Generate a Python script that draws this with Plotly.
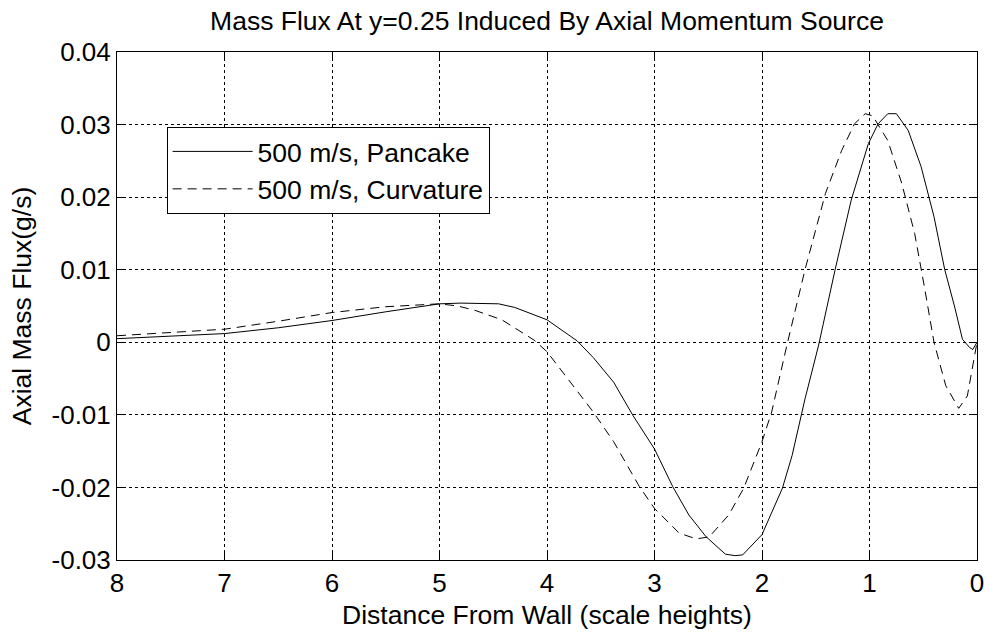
import plotly.graph_objects as go

# ---- data ----
pancake_x = [8.0, 7.5, 7.0, 6.5, 6.0, 5.5, 5.0, 4.8, 4.6, 4.45, 4.3, 4.0, 3.72, 3.57, 3.38,
             3.2, 3.0, 2.83, 2.68, 2.52, 2.34, 2.25, 2.18, 2.0, 1.81, 1.72, 1.6, 1.475, 1.32,
             1.17, 1.01, 0.92, 0.83, 0.75, 0.64, 0.52, 0.40, 0.30, 0.21, 0.135, 0.07, 0.04, 0.0]
pancake_y = [0.0005, 0.0008, 0.0012, 0.0020, 0.0030, 0.0042, 0.0053, 0.0054, 0.0054, 0.0053,
             0.0048, 0.0031, 0.0002, -0.0021, -0.0055, -0.0101, -0.0147, -0.0199, -0.0238,
             -0.0268, -0.0292, -0.0294, -0.0293, -0.0265, -0.0201, -0.0156, -0.0078, -0.0005,
             0.0100, 0.0196, 0.0274, 0.0301, 0.0315, 0.0315, 0.0292, 0.0242, 0.0173, 0.0100,
             0.0050, 0.0004, -0.0007, -0.0010, 0.0]

curv_x = [8.0, 7.5, 7.0, 6.5, 6.0, 5.5, 5.0, 4.83, 4.67, 4.42, 4.12, 4.0, 3.82, 3.57, 3.38,
          3.14, 3.0, 2.77, 2.61, 2.49, 2.31, 2.17, 2.0, 1.91, 1.77, 1.6, 1.41, 1.26, 1.14,
          1.04, 0.97, 0.83, 0.70, 0.58, 0.49, 0.40, 0.29, 0.17, 0.09, 0.03, 0.0]
curv_y = [0.0009, 0.0013, 0.0018, 0.0029, 0.0041, 0.0049, 0.0053, 0.0050, 0.0044, 0.0031,
          0.0003, -0.0013, -0.0048, -0.0096, -0.0137, -0.0199, -0.0229, -0.0263, -0.0271,
          -0.0268, -0.0238, -0.0201, -0.0137, -0.0096, -0.0005, 0.0100, 0.0205, 0.0264,
          0.0301, 0.0315, 0.0312, 0.0278, 0.0219, 0.0150, 0.0077, 0.0000, -0.0060, -0.0091,
          -0.0074, -0.0023, 0.0]

x_tick_vals = [0, 1, 2, 3, 4, 5, 6, 7, 8]
x_tick_text = ["0", "1", "2", "3", "4", "5", "6", "7", "8"]
y_tick_vals = [-0.03, -0.02, -0.01, 0.0, 0.01, 0.02, 0.03, 0.04]
y_tick_text = ["-0.03", "-0.02", "-0.01", "0", "0.01", "0.02", "0.03", "0.04"]

series_names = ["500 m/s, Pancake", "500 m/s, Curvature"]

FONT = "Liberation Sans, Arial, sans-serif"
FS = 26.5
FS_TICK = 26

fig = go.Figure()
fig.add_trace(go.Scatter(x=pancake_x, y=pancake_y, mode="lines", name=series_names[0],
                         line=dict(color="black", width=1)))
fig.add_trace(go.Scatter(x=curv_x, y=curv_y, mode="lines", name=series_names[1],
                         line=dict(color="black", width=1, dash="9px,6px")))

axis_common = dict(
    showline=True, linecolor="black", linewidth=1, mirror="allticks",
    ticks="inside", ticklen=8, tickcolor="black", tickwidth=1,
    showgrid=True, gridcolor="black", gridwidth=1, griddash="dot",
    zeroline=False, tickfont=dict(family=FONT, size=FS_TICK, color="black"),
)

fig.update_layout(
    width=996, height=637,
    margin=dict(l=117, r=13, t=52, b=74),
    paper_bgcolor="white", plot_bgcolor="white",
    font=dict(family=FONT, size=FS, color="black"),
    title=dict(text="Mass Flux At y=0.25 Induced By Axial Momentum Source",
               x=0.5, xref="paper", xanchor="center", y=0.967, yanchor="middle",
               font=dict(family=FONT, size=FS, color="black")),
    xaxis=dict(range=[8, 0], tickvals=x_tick_vals, ticktext=x_tick_text,
               title=dict(text="Distance From Wall (scale heights)", standoff=8,
                          font=dict(family=FONT, size=FS, color="black")),
               **axis_common),
    yaxis=dict(range=[-0.03, 0.04], tickvals=y_tick_vals, ticktext=y_tick_text,
               title=dict(text="Axial Mass Flux(g/s)", standoff=12,
                          font=dict(family=FONT, size=FS, color="black")),
               **axis_common),
    legend=dict(x=0.0577, y=0.853, xanchor="left", yanchor="top",
                bgcolor="white", bordercolor="black", borderwidth=1,
                itemwidth=80, font=dict(family=FONT, size=FS, color="black"),
                tracegroupgap=0),
    showlegend=True,
)

fig.write_html("out.html")
